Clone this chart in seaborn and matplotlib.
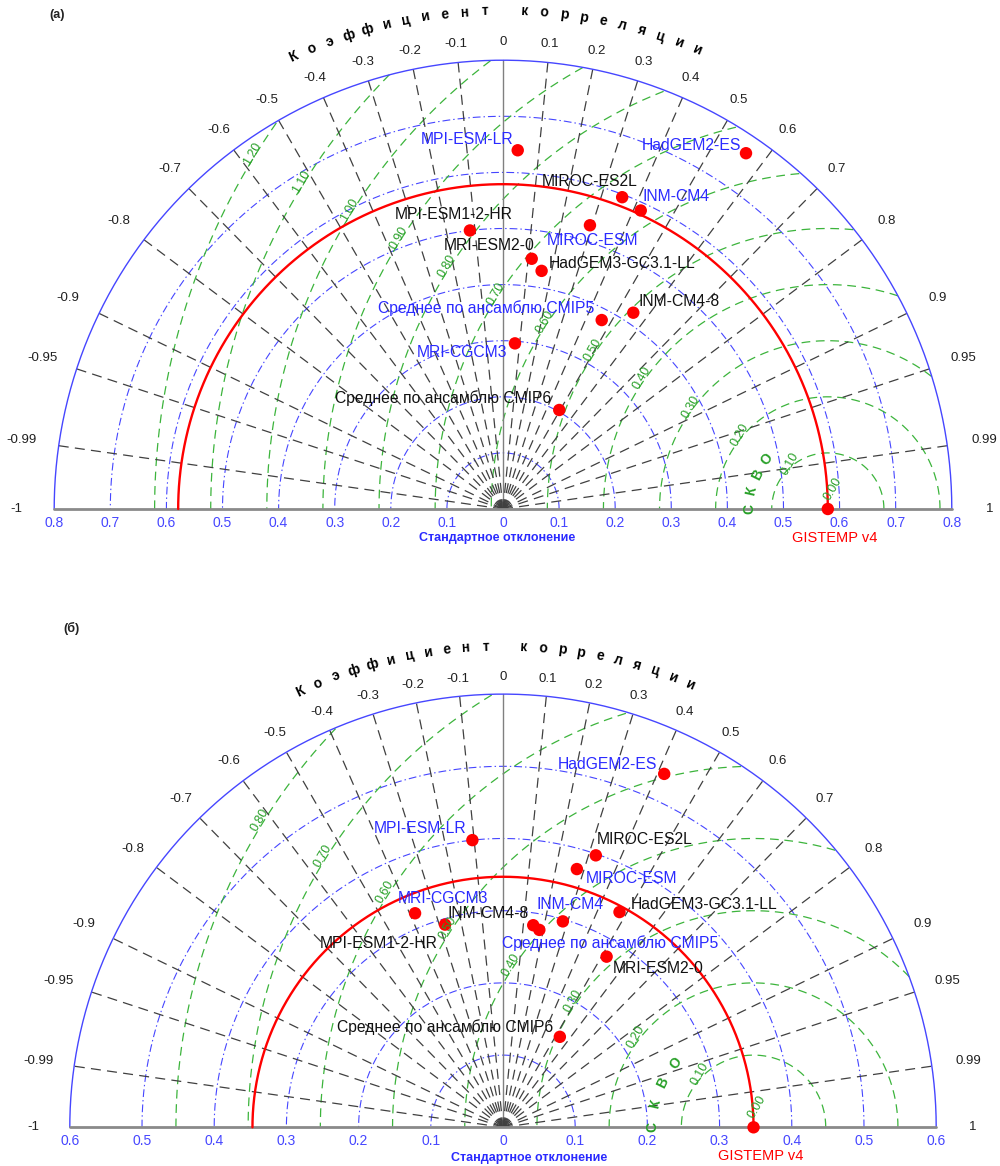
import numpy as np
import matplotlib
matplotlib.use("Agg")
import matplotlib.pyplot as plt
import seaborn as sns
import pandas as pd

sns.set_theme(style="white")
plt.rcParams['font.family'] = ['Liberation Sans', 'DejaVu Sans']

# ---------------- data ----------------
models_a = ["MPI-ESM-LR", "HadGEM2-ES", "MIROC-ES2L", "INM-CM4", "MIROC-ESM",
            "MPI-ESM1-2-HR", "MRI-ESM2-0", "HadGEM3-GC3.1-LL",
            "Среднее по ансамблю CMIP5", "INM-CM4-8", "MRI-CGCM3",
            "Среднее по ансамблю CMIP6"]
group_a = ["CMIP5", "CMIP5", "CMIP6", "CMIP5", "CMIP5", "CMIP6", "CMIP6", "CMIP6",
           "CMIP5", "CMIP6", "CMIP5", "CMIP6"]
std_a = [0.640, 0.768, 0.595, 0.586, 0.529, 0.500, 0.449, 0.430, 0.380, 0.420, 0.296, 0.203]
corr_a = [0.041, 0.564, 0.357, 0.419, 0.293, -0.118, 0.114, 0.160, 0.463, 0.553, 0.072, 0.494]
ref_std_a = 0.579

models_b = ["HadGEM2-ES", "MPI-ESM-LR", "MIROC-ES2L", "MIROC-ESM", "MRI-CGCM3",
            "MPI-ESM1-2-HR", "INM-CM4-8", "Среднее по ансамблю CMIP5", "INM-CM4",
            "HadGEM3-GC3.1-LL", "MRI-ESM2-0", "Среднее по ансамблю CMIP6"]
group_b = ["CMIP5", "CMIP5", "CMIP6", "CMIP5", "CMIP5", "CMIP6", "CMIP6", "CMIP5",
           "CMIP5", "CMIP6", "CMIP6", "CMIP6"]
std_b = [0.538, 0.400, 0.398, 0.372, 0.3205, 0.292, 0.283, 0.278, 0.297, 0.339, 0.2765, 0.148]
corr_b = [0.415, -0.106, 0.323, 0.275, -0.380, -0.275, 0.148, 0.181, 0.279, 0.476, 0.519, 0.532]
ref_std_b = 0.347

ref_name = "GISTEMP v4"

std_ticks_a = [0.1, 0.2, 0.3, 0.4, 0.5, 0.6, 0.7, 0.8]
std_ticks_b = [0.1, 0.2, 0.3, 0.4, 0.5, 0.6]
rms_levels_a = [0.1, 0.2, 0.3, 0.4, 0.5, 0.6, 0.7, 0.8, 0.9, 1.0, 1.1, 1.2]
rms_levels_b = [0.1, 0.2, 0.3, 0.4, 0.5, 0.6, 0.7, 0.8]

corr_ticks = [-1, -0.99, -0.95, -0.9, -0.8, -0.7, -0.6, -0.5, -0.4, -0.3, -0.2, -0.1,
              0, 0.1, 0.2, 0.3, 0.4, 0.5, 0.6, 0.7, 0.8, 0.9, 0.95, 0.99, 1]
corr_labels = ["-1", "-0.99", "-0.95", "-0.9", "-0.8", "-0.7", "-0.6", "-0.5", "-0.4",
               "-0.3", "-0.2", "-0.1", "0", "0.1", "0.2", "0.3", "0.4", "0.5", "0.6",
               "0.7", "0.8", "0.9", "0.95", "0.99", "1"]

corr_title = "Коэффициент корреляции"
rms_title = "СКВО"
std_title = "Стандартное отклонение"

# label offsets (pixels) for model names
offs_a = [(-51, 11), (-55, 8), (-32, 16), (35, 14), (3, -15), (-16, 16), (-43, 13),
          (81, 7), (-116, 12), (46, 11), (-53, -9), (-116, 12)]
offs_b = [(-57, 9), (-52, 12), (49, 16), (55, -9), (28, 15), (-66, -19), (-45, 12),
          (71, -13), (7, 17), (85, 8), (52, -12), (-115, 10)]

BLUE_LINE = '#4646ff'
BLUE_TXT = '#2a2aff'
GREEN_LINE = '#3cb43c'
GREEN_TXT = '#28a028'
RAY = '#404040'

W, H = 1000, 1166
fig = plt.figure(figsize=(W / 100, H / 100), dpi=100)


def make_axes(top_px, bot_px, ox, oy, scale):
    ax = fig.add_axes([0, 1 - bot_px / H, 1, (bot_px - top_px) / H])
    ax.set_xlim(-ox / scale, (W - ox) / scale)
    ax.set_ylim((oy - bot_px) / scale, (oy - top_px) / scale)
    ax.axis('off')
    return ax


def taylor(ax, R, ref, std_ticks, rms_levels, models, groups, stds, corrs, offs):
    th = np.linspace(0, np.pi, 500)
    # std circles
    for s in std_ticks:
        if s < R - 1e-9:
            ax.plot(s * np.cos(th), s * np.sin(th), color=BLUE_LINE, lw=0.8,
                    dashes=(7, 2.7, 1.3, 2.7), zorder=1)
    ax.plot(R * np.cos(th), R * np.sin(th), color=BLUE_LINE, lw=1.0, zorder=2)
    # RMS circles
    for r in rms_levels:
        x = ref + r * np.cos(th)
        y = r * np.sin(th)
        m = x ** 2 + y ** 2 > R ** 2 * 1.0005
        x = np.where(m, np.nan, x)
        y = np.where(m, np.nan, y)
        ax.plot(x, y, color=GREEN_LINE, lw=0.9, dashes=(7, 4.5), zorder=1)
    # correlation rays
    for c in corr_ticks:
        if abs(c) == 1:
            continue
        a = np.arccos(c)
        if c == 0:
            ax.plot([0, 0], [0, R], color='#808080', lw=1.0, zorder=1)
        else:
            ax.plot([0, R * np.cos(a)], [0, R * np.sin(a)], color=RAY, lw=0.9,
                    dashes=(8, 5), zorder=1)
    # baseline
    ax.plot([-R, R], [0, 0], color='#8a8a8a', lw=2.0, zorder=2)
    # reference circle
    ax.plot(ref * np.cos(th), ref * np.sin(th), color='red', lw=1.7, zorder=3)

    # corr tick labels
    for c, lab in zip(corr_ticks, corr_labels):
        a = np.arccos(c)
        rl = R * (1.04 + 0.045 * np.cos(a) ** 2)
        ax.text(rl * np.cos(a), rl * np.sin(a), lab, ha='center', va='center',
                fontsize=9.5, color='#202020')
    # corr title along arc
    n = len(corr_title)
    step = 2.28
    start = 90.95 + step * (n - 1) / 2
    for i, ch in enumerate(corr_title):
        ang = np.deg2rad(start - i * step)
        rr = R * 1.11
        ax.text(rr * np.cos(ang), rr * np.sin(ang), ch, ha='center', va='center',
                rotation=np.rad2deg(ang) - 90, fontsize=10, fontweight='bold',
                color='black')
    # std tick labels
    for s in std_ticks:
        for sgn in (-1, 1):
            ax.annotate(f"{s:g}", (sgn * s, 0), xytext=(0, -14),
                        textcoords='offset pixels', ha='center', va='center',
                        fontsize=10, color=BLUE_LINE)
    ax.annotate("0", (0, 0), xytext=(0, -14), textcoords='offset pixels',
                ha='center', va='center', fontsize=10, color=BLUE_LINE)

    # RMS labels along a line at 150 deg
    d = 0.09 * R
    x0 = ref + d
    cs, sn = np.cos(np.deg2rad(30)), np.sin(np.deg2rad(30))
    s0 = cs * d + 0.01
    ax.text(x0 - cs * s0, sn * s0, "0.00", rotation=60, ha='center', va='center',
            fontsize=9, color=GREEN_TXT, zorder=6)
    for r in rms_levels:
        s = (2 * cs * d + np.sqrt(4 * r * r - d * d)) / 2 + 0.005
        ax.text(x0 - cs * s, sn * s, f"{r:.2f}", rotation=60, ha='center',
                va='center', fontsize=9, color=GREEN_TXT, zorder=6)
    # СКВО letters around reference
    angs = np.linspace(180, 140.7, len(rms_title))
    for ch, ag in zip(rms_title, angs):
        a = np.deg2rad(ag)
        ax.text(ref + 0.14 * np.cos(a), 0.14 * np.sin(a), ch, rotation=ag - 90,
                ha='center', va='center', fontsize=10, fontweight='bold',
                color=GREEN_TXT, zorder=6)

    # markers
    df = pd.DataFrame({"model": models, "group": groups,
                       "std": stds, "corr": corrs})
    df["x"] = df["std"] * df["corr"]
    df["y"] = df["std"] * np.sqrt(1 - df["corr"] ** 2)
    sns.scatterplot(data=df, x="x", y="y", ax=ax, color='red', s=80,
                    edgecolor='none', zorder=5, legend=False)
    sns.scatterplot(x=[ref], y=[0.0], ax=ax, color='red', s=80, edgecolor='none',
                    zorder=5, legend=False)
    for (_, row), (dx, dy) in zip(df.iterrows(), offs):
        col = BLUE_TXT if row["group"] == "CMIP5" else '#111111'
        ax.annotate(row["model"], (row["x"], row["y"]), xytext=(dx, dy),
                    textcoords='offset pixels', ha='center', va='center',
                    fontsize=11.3, color=col, zorder=7)
    ax.annotate(ref_name, (ref, 0), xytext=(7, -29), textcoords='offset pixels',
                ha='center', va='center', fontsize=10.5, color='red')
    ax.set_xlabel("")
    ax.set_ylabel("")
    ax.axis('off')


ax1 = make_axes(0, 583, 503, 509, 561)
taylor(ax1, 0.8, ref_std_a, std_ticks_a, rms_levels_a, models_a, group_a,
       std_a, corr_a, offs_a)
ax1.annotate(std_title, (0, 0), xytext=(-6, -29), textcoords='offset pixels',
             ha='center', va='center', fontsize=9, fontweight='bold', color=BLUE_TXT)

ax2 = make_axes(583, 1166, 503, 1127.3, 722)
taylor(ax2, 0.6, ref_std_b, std_ticks_b, rms_levels_b, models_b, group_b,
       std_b, corr_b, offs_b)
ax2.annotate(std_title, (0, 0), xytext=(26, -31), textcoords='offset pixels',
             ha='center', va='center', fontsize=9, fontweight='bold', color=BLUE_TXT)

fig.text(57 / W, 1 - 15 / H, "(a)", ha='center', va='center', fontsize=9,
         fontweight='bold', color='#222222')
fig.text(72 / W, 1 - 628 / H, "(б)", ha='center', va='center', fontsize=9,
         fontweight='bold', color='#222222')

fig.savefig("out.png", dpi=100)
